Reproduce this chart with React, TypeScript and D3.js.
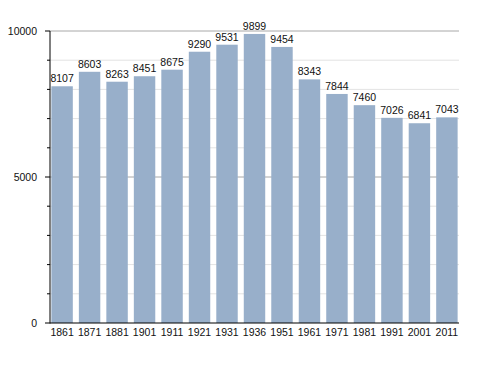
import * as d3 from 'd3'

const years = ['1861', '1871', '1881', '1901', '1911', '1921', '1931', '1936', '1951', '1961', '1971', '1981', '1991', '2001', '2011']
const population = [8107, 8603, 8263, 8451, 8675, 9290, 9531, 9899, 9454, 8343, 7844, 7460, 7026, 6841, 7043]
const majorTicks = [0, 5000, 10000]
const minorTicks = [1000, 2000, 3000, 4000, 6000, 7000, 8000, 9000]

const W = 488
const H = 373
const left = 50
const right = 459
const top = 31
const bottom = 323
const FONT = 'Liberation Sans, Arial, sans-serif'
const FS = 10.5

export default function App() {
  const x = d3.scaleBand<string>().domain(years).range([left, right]).paddingInner(0.22).paddingOuter(0.05)
  const y = d3.scaleLinear().domain([0, 10000]).range([bottom, top])

  return (
    <svg width={W} height={H} style={{ position: 'absolute', left: 0, top: 0, background: '#fff' }}>
      {/* minor grid */}
      {minorTicks.map((t) => (
        <g key={'m' + t}>
          <line x1={left} x2={right} y1={y(t)} y2={y(t)} stroke="#e3e3e3" strokeWidth={1} />
          <line x1={left - 3} x2={left} y1={y(t)} y2={y(t)} stroke="#000" strokeWidth={1} />
        </g>
      ))}
      {/* major grid */}
      {majorTicks.filter((t) => t > 0).map((t) => (
        <line key={'g' + t} x1={left} x2={right} y1={y(t)} y2={y(t)} stroke="#a8a8a8" strokeWidth={1} />
      ))}
      {/* bars */}
      {population.map((v, i) => (
        <rect key={years[i]} x={x(years[i])} y={y(v)} width={x.bandwidth()} height={bottom - y(v)} fill="#98afca" />
      ))}
      {/* value labels */}
      {population.map((v, i) => (
        <text key={'v' + i} x={(x(years[i]) ?? 0) + x.bandwidth() / 2} y={y(v) - 4} textAnchor="middle"
          fontFamily={FONT} fontSize={FS} fill="#111">{v}</text>
      ))}
      {/* axes */}
      <line x1={left} x2={left} y1={top} y2={bottom + 0.5} stroke="#000" strokeWidth={1} />
      <line x1={left} x2={right} y1={bottom} y2={bottom} stroke="#000" strokeWidth={1} />
      {majorTicks.map((t) => (
        <g key={'t' + t}>
          <line x1={left - 5} x2={left} y1={y(t)} y2={y(t)} stroke="#000" strokeWidth={1} />
          <text x={37} y={y(t) + 4} textAnchor="end" fontFamily={FONT} fontSize={FS} fill="#111">{t}</text>
        </g>
      ))}
      {years.map((yr) => (
        <text key={'x' + yr} x={(x(yr) ?? 0) + x.bandwidth() / 2} y={336} textAnchor="middle"
          fontFamily={FONT} fontSize={FS} fill="#111">{yr}</text>
      ))}
    </svg>
  )
}
